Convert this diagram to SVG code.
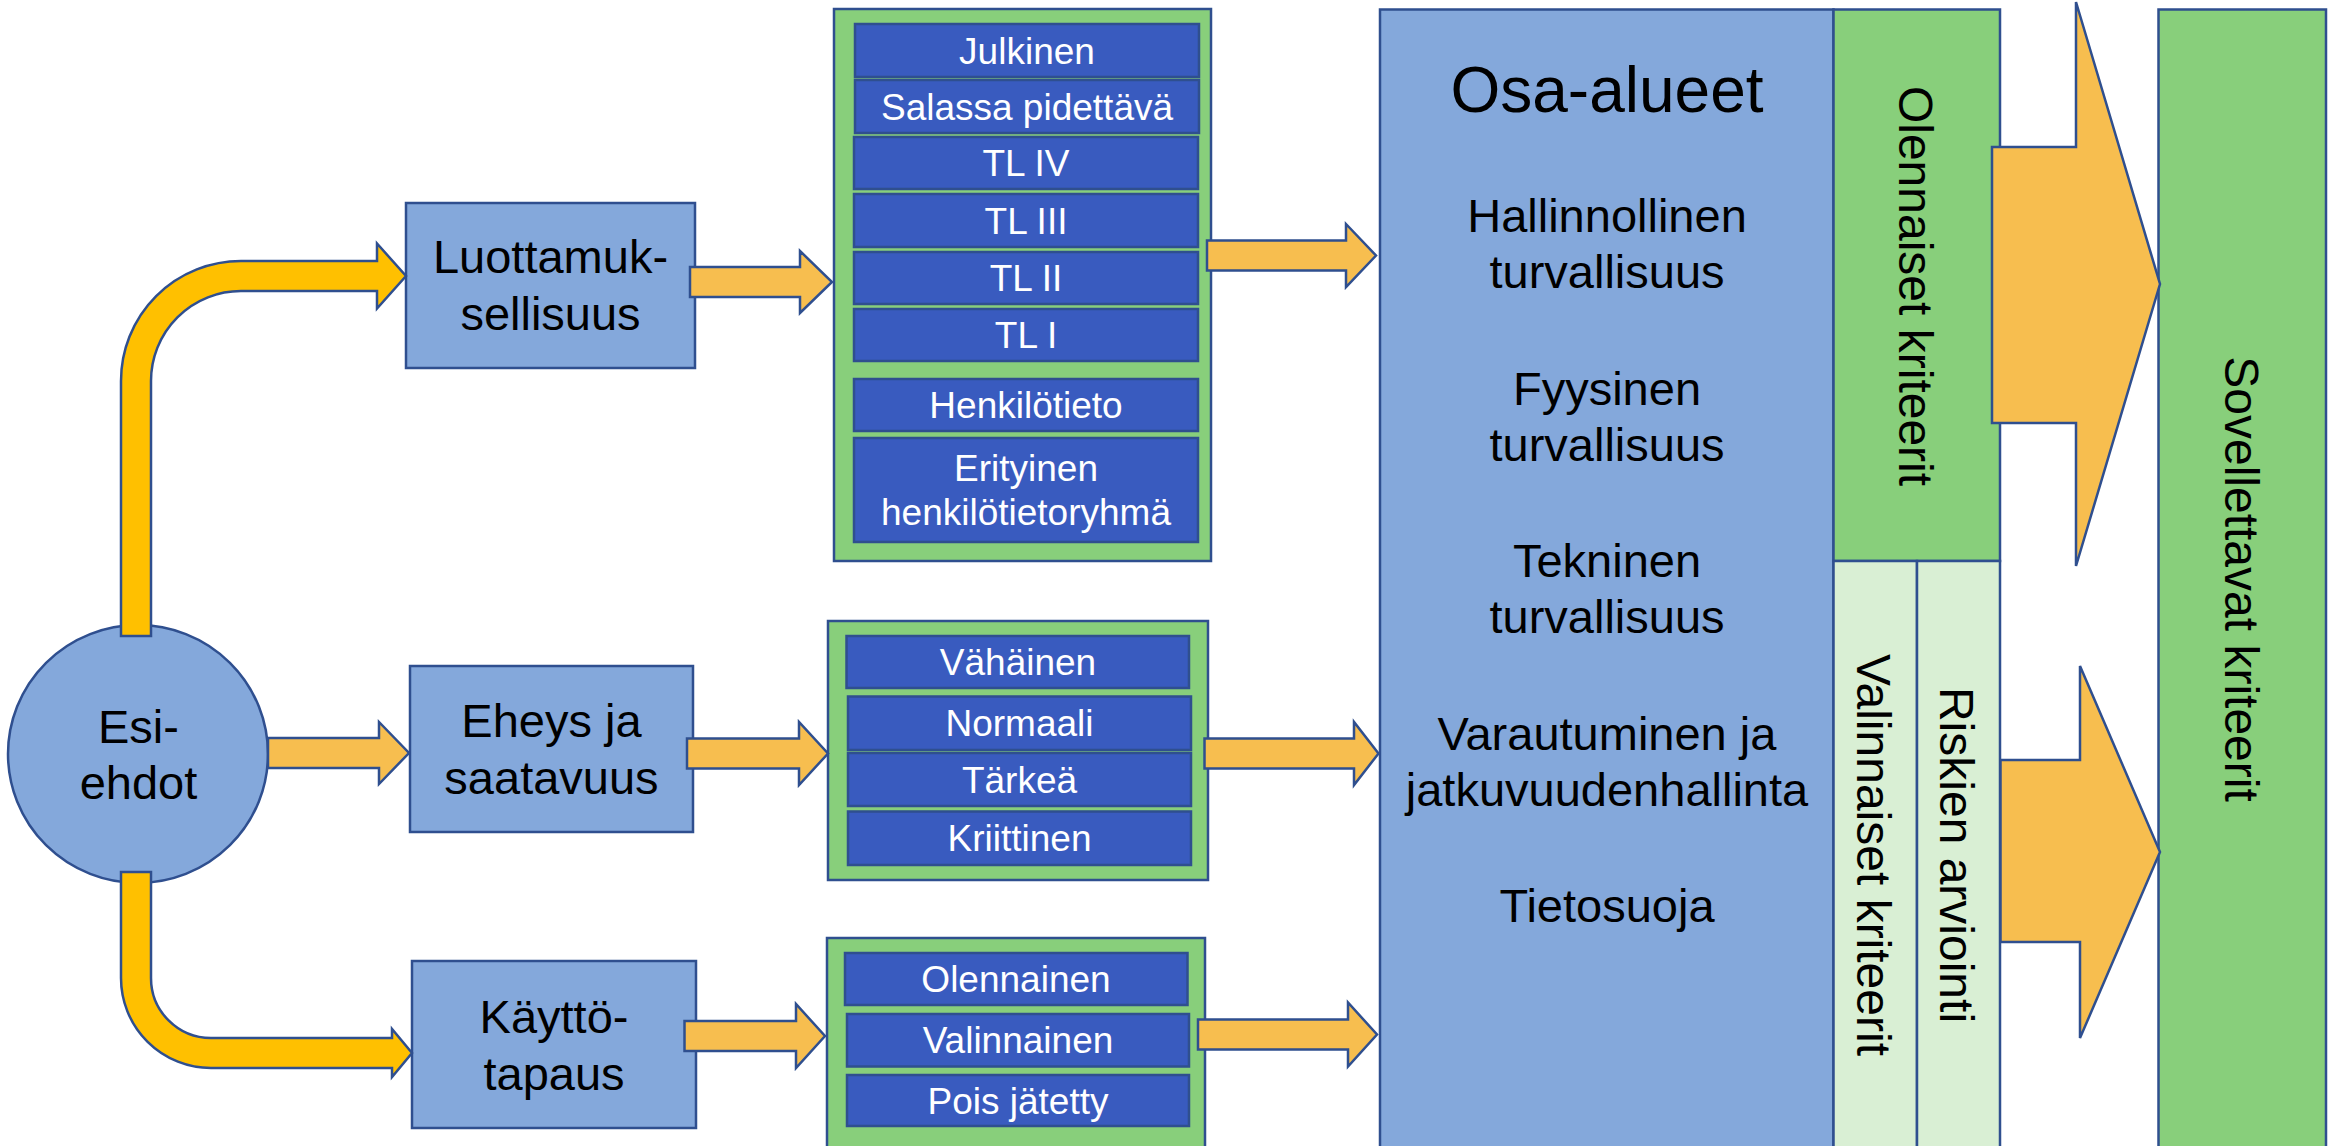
<svg xmlns="http://www.w3.org/2000/svg" width="2336" height="1146" viewBox="0 0 2336 1146">
<style>
.lb{fill:#84A8DB;stroke:#2F4F8F;stroke-width:2.5}
.gr{fill:#88CF7B;stroke:#2F4F8F;stroke-width:2.5}
.lg{fill:#D9EFD4;stroke:#2F4F8F;stroke-width:2.5}
.row{fill:#395BBF;stroke:#2F4F8F;stroke-width:2.5}
.ar{fill:#F7BE4F;stroke:#2F4F8F;stroke-width:2.5;stroke-linejoin:miter}
.ay{fill:#FFC000;stroke:#2F4F8F;stroke-width:2.5;stroke-linejoin:miter}
text{font-family:"Liberation Sans",Arial,sans-serif;text-anchor:middle;fill:#000}
.t{font-size:47px}
.h{font-size:64px}
.r{font-size:37px;fill:#fff}
.v{font-size:48px}
</style>
<rect width="2336" height="1146" fill="#fff"/>

<g id="osa-alueet">
<rect class="lb" x="1380" y="9.5" width="453.5" height="1160"/>
<text class="h" x="1607" y="112">Osa-alueet</text>
<text class="t" x="1607" y="232">Hallinnollinen</text>
<text class="t" x="1607" y="288">turvallisuus</text>
<text class="t" x="1607" y="404.5">Fyysinen</text>
<text class="t" x="1607" y="460.5">turvallisuus</text>
<text class="t" x="1607" y="577">Tekninen</text>
<text class="t" x="1607" y="633">turvallisuus</text>
<text class="t" x="1607" y="749.5">Varautuminen ja</text>
<text class="t" x="1607" y="805.5">jatkuvuudenhallinta</text>
<text class="t" x="1607" y="922">Tietosuoja</text>
</g>

<g id="olennaiset-kriteerit">
<rect class="gr" x="1833.5" y="9.5" width="166.5" height="551.5"/>
<text class="v" transform="translate(1898.5,286) rotate(90)">Olennaiset kriteerit</text>
</g>

<g id="valinnaiset-kriteerit">
<rect class="lg" x="1833.5" y="561" width="83.5" height="600"/>
<text class="v" transform="translate(1857,855) rotate(90)">Valinnaiset kriteerit</text>
</g>

<g id="riskien-arviointi">
<rect class="lg" x="1917" y="561" width="83" height="600"/>
<text class="v" transform="translate(1940,855) rotate(90)">Riskien arviointi</text>
</g>

<g id="sovellettavat-kriteerit">
<rect class="gr" x="2158.5" y="9.5" width="167.5" height="1160"/>
<text class="v" transform="translate(2225,579) rotate(90)">Sovellettavat kriteerit</text>
</g>

<g id="luokat-luottamuksellisuus">
<rect class="gr" x="834" y="9" width="377" height="552"/>
<rect class="row" x="855" y="24" width="344" height="53"/>
<text class="r" x="1027" y="63.5">Julkinen</text>
<rect class="row" x="855" y="80" width="344" height="53"/>
<text class="r" x="1027" y="120">Salassa pidettävä</text>
<rect class="row" x="854" y="137" width="344" height="52"/>
<text class="r" x="1026" y="176">TL IV</text>
<rect class="row" x="854" y="194" width="344" height="53"/>
<text class="r" x="1026" y="233.5">TL III</text>
<rect class="row" x="854" y="252" width="344" height="52"/>
<text class="r" x="1026" y="291">TL II</text>
<rect class="row" x="854" y="309" width="344" height="52"/>
<text class="r" x="1026" y="348">TL I</text>
<rect class="row" x="854" y="379" width="344" height="52"/>
<text class="r" x="1026" y="418">Henkilötieto</text>
<rect class="row" x="854" y="438" width="344" height="104"/>
<text class="r" x="1026" y="481">Erityinen</text>
<text class="r" x="1026" y="525">henkilötietoryhmä</text>
</g>

<g id="luokat-eheys">
<rect class="gr" x="828" y="621" width="380" height="259"/>
<rect class="row" x="846.5" y="636" width="342.5" height="52"/>
<text class="r" x="1018" y="675">Vähäinen</text>
<rect class="row" x="848" y="696.5" width="343" height="53.5"/>
<text class="r" x="1019.5" y="736">Normaali</text>
<rect class="row" x="848" y="753" width="343" height="53"/>
<text class="r" x="1019.5" y="792.5">Tärkeä</text>
<rect class="row" x="848" y="811.5" width="343" height="53.5"/>
<text class="r" x="1019.5" y="851">Kriittinen</text>
</g>

<g id="luokat-kayttotapaus">
<rect class="gr" x="827" y="938" width="378" height="230"/>
<rect class="row" x="845" y="953" width="342.5" height="52"/>
<text class="r" x="1016" y="992">Olennainen</text>
<rect class="row" x="847" y="1014" width="342" height="52.5"/>
<text class="r" x="1018" y="1053">Valinnainen</text>
<rect class="row" x="847" y="1075" width="342" height="51"/>
<text class="r" x="1018" y="1113.5">Pois jätetty</text>
</g>

<g id="luottamuksellisuus">
<rect class="lb" x="406" y="203" width="289" height="165"/>
<text class="t" x="550.5" y="273">Luottamuk-</text>
<text class="t" x="550.5" y="330">sellisuus</text>
</g>

<g id="eheys">
<rect class="lb" x="410" y="666" width="283" height="166"/>
<text class="t" x="551.5" y="737">Eheys ja</text>
<text class="t" x="551.5" y="794">saatavuus</text>
</g>

<g id="kayttotapaus">
<rect class="lb" x="412" y="961" width="284" height="167"/>
<text class="t" x="554" y="1033">Käyttö-</text>
<text class="t" x="554" y="1090">tapaus</text>
</g>

<g id="esiehdot">
<ellipse class="lb" cx="138" cy="754" rx="130" ry="129"/>
<text class="t" x="138.5" y="743">Esi-</text>
<text class="t" x="138.5" y="799">ehdot</text>
</g>

<g id="connectors">
<path class="ay" d="M121 636 L121 381 A120 120 0 0 1 241 261 L377 261 L377 243.5 L406 276 L377 308.5 L377 291 L241 291 A90 90 0 0 0 151 381 L151 636 Z"/>
<path class="ay" d="M121 872 L121 978 A90 90 0 0 0 211 1068 L392 1068 L392 1077 L412 1053 L392 1029 L392 1038 L211 1038 A60 60 0 0 1 151 978 L151 872 Z"/>
<path class="ar" d="M268 738 L379 738 L379 722 L409 753 L379 784 L379 768 L268 768 Z"/>
<path class="ar" d="M690 267 L800 267 L800 251 L832 282 L800 313 L800 297 L690 297 Z"/>
<path class="ar" d="M687 738.5 L799 738.5 L799 722 L828 753.5 L799 785 L799 768.5 L687 768.5 Z"/>
<path class="ar" d="M684.5 1021 L796 1021 L796 1004 L825 1036 L796 1068 L796 1051 L684.5 1051 Z"/>
<path class="ar" d="M1207 240.5 L1346 240.5 L1346 224 L1376 255.5 L1346 287 L1346 270.5 L1207 270.5 Z"/>
<path class="ar" d="M1204.5 738.5 L1354 738.5 L1354 722 L1378.5 753.5 L1354 785 L1354 768.5 L1204.5 768.5 Z"/>
<path class="ar" d="M1198 1019.5 L1348 1019.5 L1348 1002.5 L1377 1034.5 L1348 1066.5 L1348 1049.5 L1198 1049.5 Z"/>
<path class="ar" d="M1992 147 L2076 147 L2076 2 L2160 284 L2076 566 L2076 423 L1992 423 Z"/>
<path class="ar" d="M2000.5 760 L2080 760 L2080 666 L2160 852 L2080 1038 L2080 942 L2000.5 942 Z"/>
</g>
</svg>
